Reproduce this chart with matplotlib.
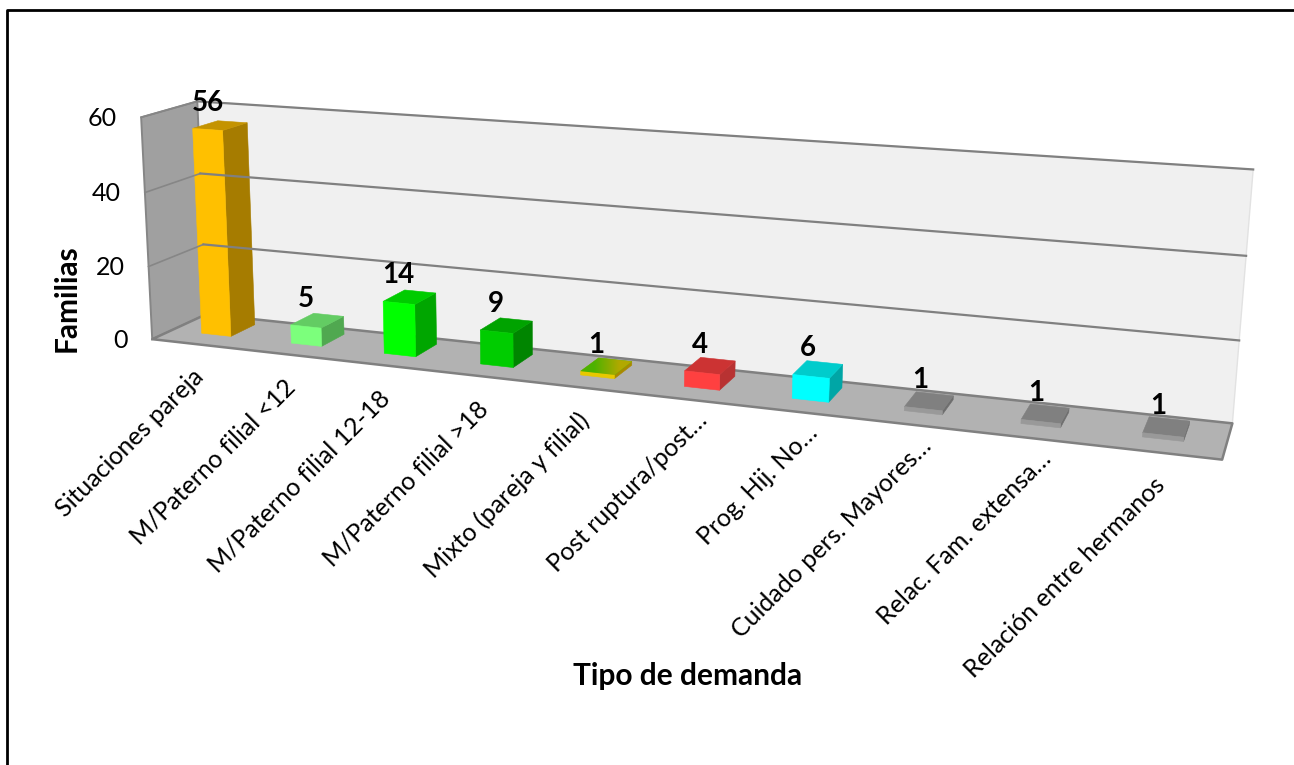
# -*- coding: utf-8 -*-
"""3D-look column chart, drawn by hand with a small perspective projection."""

import numpy as np
import matplotlib
matplotlib.use("Agg")
import matplotlib.pyplot as plt
from matplotlib.patches import Polygon

plt.rcParams["font.family"] = ["Lato", "DejaVu Sans"]

categories = ["Situaciones pareja", "M/Paterno filial <12", "M/Paterno filial 12-18",
              "M/Paterno filial >18", "Mixto (pareja y filial)", "Post ruptura/post…",
              "Prog. Hij. No…", "Cuidado pers. Mayores…", "Relac. Fam. extensa…",
              "Relación entre hermanos"]
values = [56, 5, 14, 9, 1, 4, 6, 1, 1, 1]
y_ticks = [0, 20, 40, 60]

# front, side, top colours of each bar
front_cols = ["#FFC000", "#7CFF7C", "#00FF00", "#00CC00", "#E8C800", "#FF4040", "#00FFFF", "#999999", "#999999", "#999999"]
side_cols = ["#A67C00", "#50A850", "#00A600", "#008500", "#A88A00", "#B83232", "#00A6A6", "#6E6E6E", "#6E6E6E", "#6E6E6E"]
top_cols = ["#C49300", "#63CC63", "#00CC00", "#00A300", "#70B000", "#CC3333", "#00CCCC", "#808080", "#808080", "#808080"]

d0, d1 = 0.36, 0.82
bw = 0.33

# (category pos, depth, value) -> pixel, used to fit the camera
world = np.array([[0, 0, 0], [0, 0, 60], [0, 1, 0], [0, 1, 60], [10, 1, 0], [10, 1, 60],
                  [10, 0, 0], [0, 0, 20], [0, 0, 40], [10, 1, 20], [10, 1, 40],
                  [0.5-bw/2, d0, 0], [0.5+bw/2, d0, 0], [4.5-bw/2, d0, 0], [9.5-bw/2, d0, 0],
                  [9.5+bw/2, d0, 0], [0.5-bw/2, d0, 56], [0.5+bw/2, d1, 56], [6.5-bw/2, d0, 0],
                  [2.5-bw/2, d0, 0]], float)
pixels = np.array([[155, 338], [138, 117], [203, 316], [201, 101], [1233, 421], [1253, 170],
                   [1222, 462], [153, 264], [146, 192], [1239, 340], [1246, 256],
                   [203, 333], [232, 336], [581, 375], [1142, 435],
                   [1182, 439], [190, 130], [242, 124], [791, 399],
                   [385, 353]], float)
weights = [3]*7 + [1]*13

A, b = [], []
for (X, Y, Z), (px, py), w in zip(world, pixels, weights):
    A.append([w*q for q in [X, Y, Z, 1, 0, 0, 0, 0, -px*X, -px*Y, -px*Z]])
    A.append([w*q for q in [0, 0, 0, 0, X, Y, Z, 1, -py*X, -py*Y, -py*Z]])
    b += [w*px, w*py]
cam = np.append(np.linalg.lstsq(np.array(A), np.array(b), rcond=None)[0], 1).reshape(3, 4)


def proj(u, d, v):
    p = cam @ np.array([u, d, v, 1.0])
    return p[0] / p[2], p[1] / p[2]


fig = plt.figure(figsize=(12.94, 7.65), dpi=100, facecolor="white")
ax = fig.add_axes([0, 0, 1, 1])
ax.set_xlim(0, 1294)
ax.set_ylim(765, 0)
ax.axis("off")

# only the left and top edges of the frame are in the picture
ax.plot([7, 7, 1294], [765, 9.5, 9.5], color="black", lw=2)

# walls and floor
vmax = y_ticks[-1]
left = [proj(0, 0, 0), proj(0, 0, vmax), proj(0, 1, vmax), proj(0, 1, 0)]
back = [proj(0, 1, 0), proj(0, 1, vmax), proj(10, 1, vmax), proj(10, 1, 0)]
floor = [proj(0, 0, 0), proj(10, 0, 0), proj(10, 1, 0), proj(0, 1, 0)]
ax.add_patch(Polygon(back, fc="#F0F0F0", ec="#E2E2E2", lw=1))
ax.add_patch(Polygon(left, fc="#A0A0A0", ec="#868686", lw=1.4))
ax.add_patch(Polygon(floor, fc="#B2B2B2", ec="#808080", lw=1.8, joinstyle="round"))

for t in y_ticks[1:]:
    p0, p1, p2 = proj(0, 0, t), proj(0, 1, t), proj(10, 1, t)
    ax.plot([p0[0], p1[0]], [p0[1], p1[1]], color="#868686", lw=1.2)
    ax.plot([p1[0], p2[0]], [p1[1], p2[1]], color="#808080", lw=1.6)
for t in y_ticks:
    x, y = proj(0, 0, t)
    ax.text(x - 24, y + 1, str(t), ha="right", va="center", fontsize=18, color="black")

# bars
for i, v in enumerate(values):
    u0, u1 = i + 0.5 - bw/2, i + 0.5 + bw/2
    front = [proj(u0, d0, 0), proj(u1, d0, 0), proj(u1, d0, v), proj(u0, d0, v)]
    side = [proj(u1, d0, 0), proj(u1, d1, 0), proj(u1, d1, v), proj(u1, d0, v)]
    top = [proj(u0, d0, v), proj(u1, d0, v), proj(u1, d1, v), proj(u0, d1, v)]
    ax.add_patch(Polygon(side, fc=side_cols[i], ec=side_cols[i], lw=0.4))
    top_patch = Polygon(top, fc=top_cols[i], ec=top_cols[i], lw=0.4)
    ax.add_patch(top_patch)
    ax.add_patch(Polygon(front, fc=front_cols[i], ec=front_cols[i], lw=0.4))
    if categories[i].startswith("Mixto"):
        # this bar has a green to ochre gradient on top
        xs = [q[0] for q in top]
        ys = [q[1] for q in top]
        grad = np.array([[[0.30, 0.70, 0.0], [0.70, 0.66, 0.0]]])
        im = ax.imshow(grad, extent=(min(xs), max(xs), max(ys), min(ys)), aspect="auto",
                       interpolation="bilinear", zorder=top_patch.get_zorder())
        im.set_clip_path(top_patch)
        ax.set_xlim(0, 1294)
        ax.set_ylim(765, 0)

    x, y = proj(i + 0.5, 0.5, v)
    ax.text(x - 7, y - 24, str(v), ha="center", va="center", fontsize=20, fontweight="bold", color="black")

    # cut-off labels sit further up along their diagonal
    x, y = proj(i + 0.5, 0, 0)
    if categories[i].endswith("…"):
        x, y = x + 14, y + 17
    else:
        x, y = x + 3, y + 29
    ax.text(x, y, categories[i], rotation=45, rotation_mode="anchor",
            ha="right", va="center", fontsize=18, color="black")

ax.text(67, 298, "Familias", rotation=90, ha="center", va="center", fontsize=21.5, fontweight="bold")
ax.text(688, 676, "Tipo de demanda", ha="center", va="center", fontsize=21.5, fontweight="bold")

plt.savefig("out.png", dpi=100, facecolor="white")
plt.close()
